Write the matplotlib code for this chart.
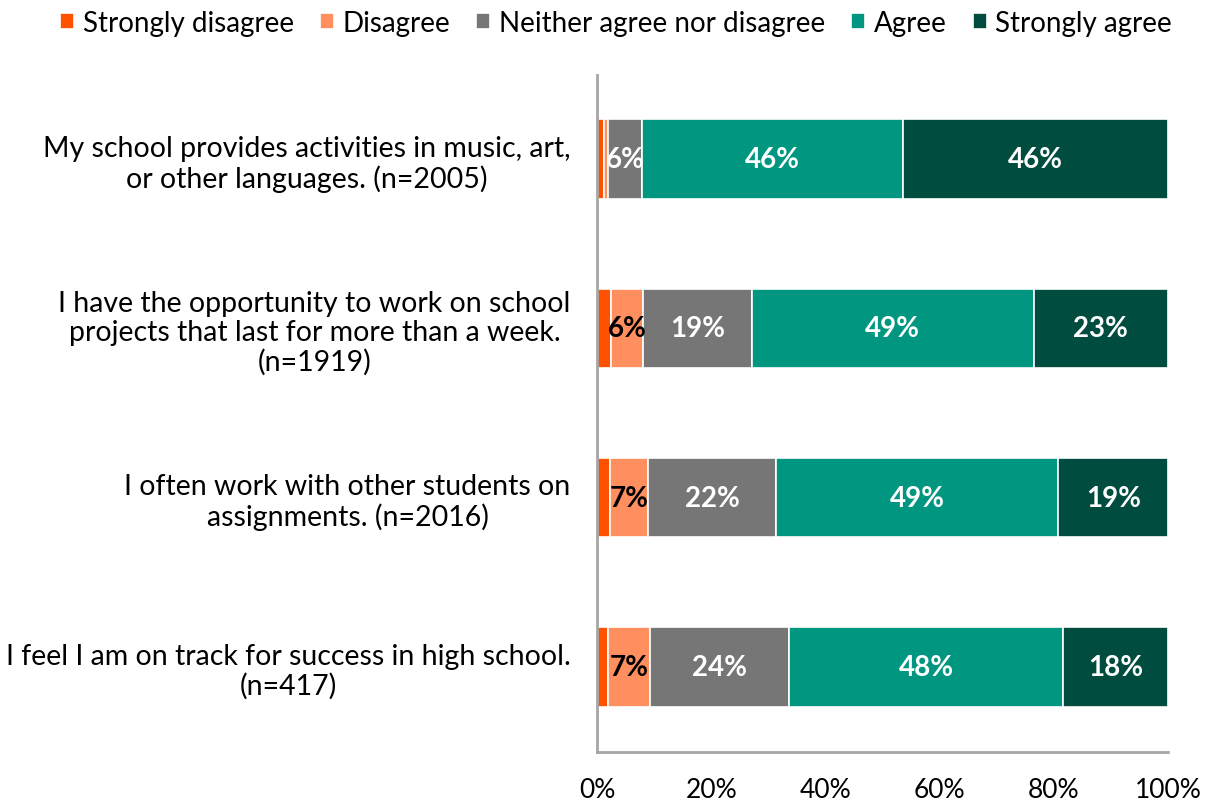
import matplotlib
matplotlib.use("Agg")
import matplotlib.pyplot as plt
from matplotlib.ticker import PercentFormatter
import numpy as np

plt.rcParams['font.family'] = ['Lato', 'DejaVu Sans']

categories = [
    "My school provides activities in music, art,\nor other languages. (n=2005)",
    "I have the opportunity to work on school\nprojects that last for more than a week.\n(n=1919)",
    "I often work with other students on\nassignments. (n=2016)",
    "I feel I am on track for success in high school.\n(n=417)",
]
series_names = ["Strongly disagree", "Disagree", "Neither agree nor disagree", "Agree", "Strongly agree"]
strongly_disagree = [1.2, 2.5, 2.2, 1.9]
disagree = [0.7, 5.6, 6.8, 7.4]
neither = [6.0, 19.0, 22.4, 24.3]
agree = [45.7, 49.4, 49.4, 48.0]
strongly_agree = [46.4, 23.4, 19.2, 18.4]
series = [strongly_disagree, disagree, neither, agree, strongly_agree]
colors = ["#FF5100", "#FF8F5F", "#767676", "#00967F", "#004C3F"]
label_colors = ["black", "black", "white", "white", "white"]

fig = plt.figure(figsize=(12.15, 8.04), dpi=100)
ax = fig.add_axes([0.4914, 0.064, 0.4700, 0.842])

y = np.arange(len(categories))
left = np.zeros(len(categories))
for name, vals, c, lc in zip(series_names, series, colors, label_colors):
    vals = np.array(vals)
    ax.barh(y, vals, left=left, height=0.47, color=c, edgecolor="white",
            linewidth=1.2, label=name)
    for yi, (l, v) in enumerate(zip(left, vals)):
        if v >= 5:
            ax.text(l + v / 2, yi, f"{round(v):.0f}%", ha="center", va="center",
                    color=lc, fontsize=20, fontweight="bold")
    left = left + vals

ax.set_xlim(0, 100)
ax.set_ylim(len(categories) - 0.5, -0.5)
ax.set_yticks(y)
ax.set_yticklabels(categories, fontsize=20.5, linespacing=1.15, multialignment="center")
ax.set_xticks(np.arange(0, 101, 20))
ax.xaxis.set_major_formatter(PercentFormatter(decimals=0))
ax.tick_params(axis="x", labelsize=19, length=0, pad=18)
ax.tick_params(axis="y", length=0, pad=19)
for s in ["top", "right"]:
    ax.spines[s].set_visible(False)
for s in ["left", "bottom"]:
    ax.spines[s].set_color("#A6A6A6")
    ax.spines[s].set_linewidth(2)

handles, labels = ax.get_legend_handles_labels()
fig.legend(handles, labels, loc="upper center", bbox_to_anchor=(0.507, 1.018), ncol=5,
           frameon=False, fontsize=20, handlelength=0.5, handleheight=0.5,
           handletextpad=0.3, columnspacing=0.95)

fig.savefig("out.png", dpi=100)
